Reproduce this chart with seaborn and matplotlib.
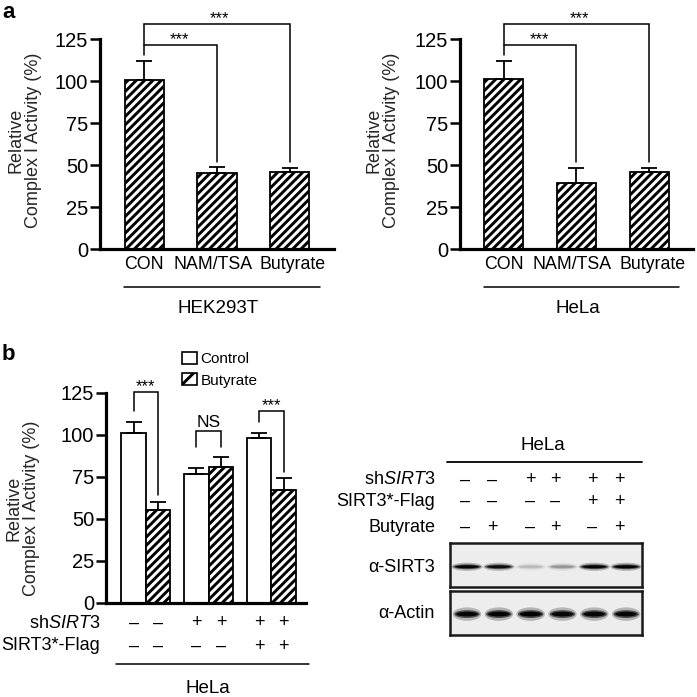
import numpy as np
import pandas as pd
import matplotlib
matplotlib.use("Agg")
import matplotlib.pyplot as plt
import seaborn as sns
from matplotlib.patches import Ellipse, Patch
from matplotlib.transforms import blended_transform_factory, ScaledTranslation

# ---------------- data ----------------
a_categories = ["CON", "NAM/TSA", "Butyrate"]
a_hek_values = [100.5, 45.6, 46.3]
a_hek_errors = [11.7, 3.6, 2.0]
a_hela_values = [101.3, 39.3, 46.0]
a_hela_errors = [10.9, 9.3, 2.4]
a_hek_title = "HEK293T"
a_hela_title = "HeLa"

b_groups = ["G1", "G2", "G3"]
b_treatments = ["Control", "Butyrate"]
b_control_values = [101.0, 77.0, 98.0]
b_control_errors = [7.0, 3.5, 3.4]
b_butyrate_values = [55.4, 80.7, 67.3]
b_butyrate_errors = [4.6, 6.3, 6.9]
b_shsirt3 = ["–", "–", "+", "+", "+", "+"]
b_flag = ["–", "–", "–", "–", "+", "+"]
b_sig = ["***", "NS", "***"]

blot_shsirt3 = ["–", "–", "+", "+", "+", "+"]
blot_flag = ["–", "–", "–", "–", "+", "+"]
blot_butyrate = ["–", "+", "–", "+", "–", "+"]
blot_sirt3_intensity = [0.95, 0.85, 0.12, 0.22, 0.95, 0.97]
blot_actin_intensity = [0.92, 0.97, 0.97, 0.92, 0.92, 0.92]

# ---------------- style ----------------
sns.set_theme(style="ticks")
plt.rcParams["font.family"] = ["Liberation Sans", "DejaVu Sans"]
plt.rcParams["mathtext.fontset"] = "custom"
plt.rcParams["mathtext.rm"] = "Liberation Sans"
plt.rcParams["mathtext.it"] = "Liberation Sans:italic"
plt.rcParams["hatch.linewidth"] = 2.1
plt.rcParams["hatch.color"] = "black"
plt.rcParams["text.color"] = "black"

HATCH = "////"
W = 697.0
fig = plt.figure(figsize=(6.97, 6.97), dpi=100)
fig.patch.set_facecolor("white")


def rect(x0, y0, x1, y1):
    return [x0 / W, 1 - y1 / W, (x1 - x0) / W, (y1 - y0) / W]


def style_axis(ax):
    for s in ["top", "right"]:
        ax.spines[s].set_visible(False)
    for s in ["left", "bottom"]:
        ax.spines[s].set_linewidth(2.3)
        ax.spines[s].set_color("black")
    ax.set_ylim(0, 125)
    ax.set_yticks([0, 25, 50, 75, 100, 125])
    ax.tick_params(axis="y", length=7, width=1.8, pad=1.5, labelsize=14.5,
                   colors="black", direction="out")
    ax.tick_params(axis="x", length=0, pad=5, labelsize=12.8, colors="black")
    ax.set_facecolor("none")
    ax.set_xlabel("")


def bracket(ax, xs, ys, lw=1.1):
    ax.plot(xs, ys, color="black", lw=lw, clip_on=False, solid_joinstyle="miter")


def panel_a(ax, values, errors, title, label_x):
    sns.barplot(x=a_categories, y=values, color="white", edgecolor="black",
                linewidth=1.3, width=0.536, saturation=1, hatch=HATCH,
                errorbar=None, ax=ax)
    xs = np.arange(len(a_categories))
    ax.errorbar(xs, values, yerr=[np.zeros(len(values)), errors], fmt="none",
                ecolor="black", elinewidth=1.3, capsize=6, capthick=1.3, zorder=1)
    style_axis(ax)
    ax.set_xlim(-0.605, 2.605)
    ax.set_ylabel("Relative\nComplex I Activity (%)", fontsize=13, linespacing=1.05)
    ax.yaxis.set_label_coords(label_x, 0.52)
    # nudge crowded category labels apart
    for lab, dx in zip(ax.get_xticklabels(), [0, -4, 3]):
        lab.set_transform(lab.get_transform() +
                          ScaledTranslation(dx / 100, 0, fig.dpi_scale_trans))
    # significance brackets
    bracket(ax, [0, 0], [115.8, 134.3])
    bracket(ax, [0, 2, 2], [134.3, 134.3, 52])
    bracket(ax, [0, 1, 1], [121.8, 121.8, 52])
    ax.text(1.04, 134.6, "***", ha="center", va="baseline", fontsize=12)
    ax.text(0.49, 122.1, "***", ha="center", va="baseline", fontsize=12)
    # group underline and title
    tr = ax.get_xaxis_transform()
    ax.plot([-0.28, 2.41], [-0.1795, -0.1795], color="black", lw=1.1,
            transform=tr, clip_on=False)
    ax.text(1.02, -0.283, title, ha="center", va="center", fontsize=13.5,
            transform=tr)


# ---------------- panel a ----------------
ax1 = fig.add_axes(rect(100, 39.3, 334, 249.3))
panel_a(ax1, a_hek_values, a_hek_errors, a_hek_title, -0.249)
ax2 = fig.add_axes(rect(460, 39.3, 693, 249.3))
panel_a(ax2, a_hela_values, a_hela_errors, a_hela_title, -0.258)

fig.text(9 / W, 1 - 12 / W, "a", fontsize=16, fontweight="bold",
         ha="center", va="center")
fig.text(8 / W, 1 - 355 / W, "b", fontsize=16, fontweight="bold",
         ha="center", va="center")

# ---------------- panel b ----------------
df_b = pd.DataFrame({
    "group": b_groups * 2,
    "treatment": [b_treatments[0]] * 3 + [b_treatments[1]] * 3,
    "value": b_control_values + b_butyrate_values,
})
ax3 = fig.add_axes(rect(106, 393, 306, 603))
sns.barplot(data=df_b, x="group", y="value", hue="treatment",
            hue_order=b_treatments, palette=["white", "white"],
            edgecolor="black", linewidth=1.3, width=0.78, saturation=1,
            errorbar=None, legend=False, ax=ax3)
for bar in ax3.containers[1]:
    bar.set_hatch(HATCH)
off = 0.195
gx = np.arange(len(b_groups))
ax3.errorbar(gx - off, b_control_values, yerr=[np.zeros(3), b_control_errors],
             fmt="none", ecolor="black", elinewidth=1.3, capsize=6,
             capthick=1.3, zorder=1)
ax3.errorbar(gx + off, b_butyrate_values, yerr=[np.zeros(3), b_butyrate_errors],
             fmt="none", ecolor="black", elinewidth=1.3, capsize=6,
             capthick=1.3, zorder=1)
style_axis(ax3)
ax3.set_xlim(-0.636, 2.551)
ax3.set_xticks(gx)
ax3.set_xticklabels([])
ax3.set_ylabel("Relative\nComplex I Activity (%)", fontsize=13, linespacing=1.05)
ax3.yaxis.set_label_coords(-0.33, 0.45)

# brackets in b
bracket(ax3, [-off, -off, off, off], [114, 125.6, 125.6, 64])
ax3.text(0, 125.9, b_sig[0], ha="center", va="baseline", fontsize=12)
bracket(ax3, [1 - off, 1 - off, 1 + off, 1 + off], [92.7, 102.4, 102.4, 92.7])
ax3.text(1, 104.8, b_sig[1], ha="center", va="baseline", fontsize=12.5)
bracket(ax3, [2 - off, 2 - off, 2 + off, 2 + off], [108, 114.3, 114.3, 78])
ax3.text(2, 114.6, b_sig[2], ha="center", va="baseline", fontsize=12)

# legend
handles = [Patch(facecolor="white", edgecolor="black", linewidth=1.2),
           Patch(facecolor="white", edgecolor="black", linewidth=1.2, hatch="//")]
leg = ax3.legend(handles, b_treatments, loc="upper left",
                 bbox_to_anchor=(182 / W, 1 - 352 / W),
                 bbox_transform=fig.transFigure, frameon=False, fontsize=11,
                 handlelength=0.95, handleheight=0.85, handletextpad=0.25,
                 labelspacing=0.45, borderpad=0, borderaxespad=0)

# condition rows in b
bar_x = [g + s for g in gx for s in (-off, off)]
trb = ax3.get_xaxis_transform()
for x, s1, s2 in zip(bar_x, b_shsirt3, b_flag):
    ax3.text(x, -0.095, s1, ha="center", va="center", fontsize=13, transform=trb)
    ax3.text(x, -0.205, s2, ha="center", va="center", fontsize=13, transform=trb)
fig.text(100 / W, 1 - 623 / W, "sh$\\it{SIRT3}$", ha="right", va="center", fontsize=13)
fig.text(100 / W, 1 - 646 / W, "SIRT3*-Flag", ha="right", va="center", fontsize=13)
ax3.plot([-0.475, 2.60], [-0.29, -0.29], color="black", lw=1.1,
         transform=trb, clip_on=False)
ax3.text(0.99, -0.405, "HeLa", ha="center", va="center", fontsize=13.5,
         transform=trb)

# ---------------- western blot ----------------
lanes = np.arange(6)


def blot(ax, intens, width, height, yc):
    ax.set_xlim(-0.535, 5.5)
    ax.set_ylim(-1, 1)
    ax.set_facecolor("#ededed")
    ax.set_xticks([])
    ax.set_yticks([])
    for s in ax.spines.values():
        s.set_visible(True)
        s.set_linewidth(1.8)
        s.set_color("#1a1a1a")
    for x, a in zip(lanes, intens):
        ax.add_patch(Ellipse((x, yc), width * 1.12, height * 1.7,
                             facecolor="black", edgecolor="none", alpha=0.25 * a))
        ax.add_patch(Ellipse((x, yc), width, height,
                             facecolor="black", edgecolor="none", alpha=0.6 * a))
        ax.add_patch(Ellipse((x, yc), width * 0.85, height * 0.6,
                             facecolor="black", edgecolor="none", alpha=a))


ax4 = fig.add_axes(rect(450, 543, 642, 587))
blot(ax4, blot_sirt3_intensity, 0.88, 0.22, -0.08)
ax5 = fig.add_axes(rect(450, 591, 642, 635))
blot(ax5, blot_actin_intensity, 0.8, 0.36, -0.05)

sym_x = [-0.06, 0.79, 1.98, 2.77, 3.93, 4.78]
trt = blended_transform_factory(ax4.transData, fig.transFigure)
for x, s1, s2, s3 in zip(sym_x, blot_shsirt3, blot_flag, blot_butyrate):
    fig.text(x, 1 - 480 / W, s1, ha="center", va="center", fontsize=13, transform=trt)
    fig.text(x, 1 - 501 / W, s2, ha="center", va="center", fontsize=13, transform=trt)
    fig.text(x, 1 - 527 / W, s3, ha="center", va="center", fontsize=13, transform=trt)

fig.text(543 / W, 1 - 445 / W, "HeLa", ha="center", va="center", fontsize=13.5)
fig.add_artist(plt.Line2D([447 / W, 642 / W], [1 - 462 / W, 1 - 462 / W],
                          color="black", lw=1.3, transform=fig.transFigure))
fig.text(435 / W, 1 - 480 / W, "sh$\\it{SIRT3}$", ha="right", va="center", fontsize=13)
fig.text(435 / W, 1 - 501 / W, "SIRT3*-Flag", ha="right", va="center", fontsize=13)
fig.text(435 / W, 1 - 527 / W, "Butyrate", ha="right", va="center", fontsize=13)
fig.text(435 / W, 1 - 567 / W, "α-SIRT3", ha="right", va="center", fontsize=13)
fig.text(435 / W, 1 - 614 / W, "α-Actin", ha="right", va="center", fontsize=13)

fig.savefig("out.png", dpi=100)
